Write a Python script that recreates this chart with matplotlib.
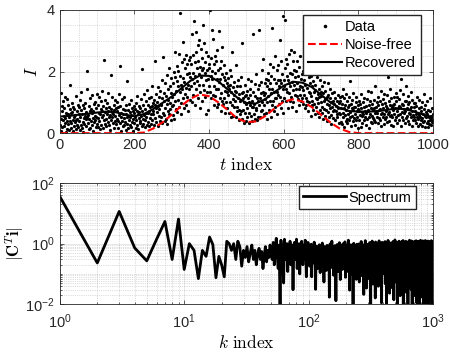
import numpy as np
import matplotlib
matplotlib.use('Agg')
import matplotlib.pyplot as plt
from matplotlib.ticker import MultipleLocator, LogLocator, NullFormatter, FuncFormatter

data_vals = [
    0.27,1.31,0.46,0.08,0.73,0.88,0.19,0.42,1.04,0.57,0.23,0.81,1.18,0.34,0.49,0.03,0.66,0.38,1.12,0.15,0.62,0.93,0.29,0.11,0.53,0.77,0.41,1.55,0.18,0.64,0.32,0.69,0.97,0.06,0.44,0.86,0.51,0.24,0.79,0.36,0.58,1.21,0.43,0.13,0.71,0.47,0.26,0.92,0.21,0.61,
    0.39,0.84,0.09,1.07,0.52,0.28,0.74,1.33,0.17,0.63,0.91,0.37,0.04,0.48,0.82,0.31,0.99,0.56,0.22,0.68,0.45,1.42,0.54,2.01,0.33,0.59,0.12,0.87,0.46,0.72,0.16,1.13,0.41,0.78,0.27,0.65,1.24,0.49,0.07,0.71,0.94,0.35,0.57,0.43,1.02,0.19,0.52,0.83,0.30,1.27,
    0.48,0.92,0.21,0.67,1.19,0.38,0.61,0.14,0.79,1.03,0.28,0.73,0.51,1.38,0.18,0.59,0.89,2.36,0.42,0.68,0.31,1.09,0.47,0.81,0.24,0.63,0.98,0.37,0.72,1.29,0.26,0.53,0.86,0.58,0.09,0.77,0.44,1.90,0.69,0.52,1.17,0.33,0.62,0.93,0.17,0.74,1.08,0.39,0.55,0.82,
    0.29,0.71,1.01,0.47,0.16,0.84,0.41,1.26,0.58,2.19,0.32,0.88,0.53,0.06,0.67,1.12,0.38,0.61,0.23,0.79,0.49,1.16,0.27,0.74,0.36,0.91,0.11,0.63,1.69,0.52,0.31,0.76,0.57,0.18,0.96,0.43,0.68,0.26,0.54,1.07,0.21,0.59,0.83,0.37,0.08,0.72,0.46,0.89,0.33,0.64,
    0.51,0.78,0.17,0.97,0.44,0.73,0.28,1.22,0.62,0.12,0.87,0.48,0.69,0.34,0.82,0.39,1.11,0.56,2.09,0.24,0.71,0.47,0.93,0.31,1.28,0.58,0.42,0.79,0.19,1.03,0.53,0.67,1.41,0.27,0.64,0.91,0.36,1.14,0.73,0.22,0.84,0.49,1.19,0.61,0.29,0.88,1.52,0.43,0.72,0.98,
    0.63,1.08,0.27,0.92,2.34,0.48,0.81,1.27,0.36,1.02,0.68,1.49,0.22,0.87,0.57,1.18,0.79,0.41,1.37,0.96,0.52,0.91,1.72,0.32,1.13,2.48,0.66,1.31,0.59,1.04,0.38,1.63,0.83,1.21,0.47,1.88,0.94,0.29,1.43,1.07,0.73,2.11,0.61,0.99,1.53,0.78,0.42,1.29,1.79,0.88,
    1.17,0.58,1.62,0.93,1.98,1.27,0.47,1.81,1.04,2.63,1.38,0.77,1.71,2.18,0.68,1.52,1.09,2.03,0.86,2.57,1.33,1.87,3.91,0.98,1.58,0.61,2.31,1.42,2.97,1.78,1.13,2.42,0.82,1.67,1.26,2.12,1.48,0.91,2.53,1.93,1.18,2.24,1.57,0.72,2.38,1.43,1.96,1.07,1.83,2.47,
    1.52,2.24,1.02,3.21,1.76,2.55,1.25,1.96,1.63,3.65,2.31,0.92,1.86,3.27,1.42,2.64,1.71,2.13,1.15,2.85,2.34,1.55,3.02,1.91,0.83,2.15,1.33,2.74,1.84,2.06,1.05,2.45,1.56,3.52,2.12,1.41,2.94,1.16,1.95,2.31,0.62,2.65,1.73,2.04,1.34,2.51,1.76,0.74,2.23,1.52,
    2.11,1.34,4.00,1.86,2.43,1.13,3.36,1.75,2.01,1.24,3.05,1.54,2.26,0.91,1.95,2.51,1.22,2.33,1.45,0.84,2.71,1.76,1.44,2.05,0.95,3.32,1.65,2.12,1.14,1.75,0.72,2.35,1.31,1.92,1.05,2.81,1.55,0.94,1.83,1.15,2.21,1.36,0.64,1.72,1.01,1.95,1.34,1.63,0.82,1.53,
    1.24,1.79,0.66,1.42,2.05,1.01,1.56,0.54,1.33,1.86,0.91,2.62,1.12,1.51,0.55,1.23,1.66,0.84,1.36,1.03,2.21,0.52,1.35,0.86,1.54,0.71,1.15,1.74,0.43,1.26,0.75,1.52,0.61,1.06,1.83,0.73,1.31,2.93,0.45,1.14,0.76,1.35,0.32,1.01,1.57,0.64,1.22,0.95,0.41,1.25,
    0.83,1.36,0.52,1.14,1.76,0.65,1.01,0.32,1.45,0.93,1.24,0.55,1.71,0.84,1.06,0.41,1.35,0.86,3.21,0.63,0.95,1.61,0.46,1.22,0.81,1.92,0.74,1.13,0.44,1.42,1.04,0.53,1.56,0.91,3.34,1.15,0.51,1.66,0.73,1.32,1.01,2.05,0.76,1.35,2.41,0.92,1.25,0.62,1.64,1.11,
    1.32,0.66,1.75,1.02,1.54,0.46,1.96,1.21,1.73,0.76,1.43,2.26,1.05,1.63,0.54,1.85,1.31,0.92,3.41,1.45,1.03,2.14,1.34,0.72,1.76,1.15,2.51,0.86,1.64,1.13,2.04,1.35,0.61,1.72,1.24,2.21,0.95,1.53,3.02,1.74,1.16,0.82,2.35,1.62,1.06,1.91,1.44,0.65,3.81,1.52,
    1.72,1.15,2.13,3.69,1.45,2.42,1.03,1.86,1.35,2.24,0.82,1.74,1.31,2.56,1.62,1.05,1.94,1.53,2.71,1.16,1.91,0.85,1.66,2.33,1.39,1.01,2.04,1.55,2.64,1.24,1.83,0.73,2.02,1.44,1.21,2.35,1.64,1.12,1.86,1.42,2.15,0.91,1.54,2.49,1.25,1.76,1.04,1.93,1.51,1.14,
    1.41,2.03,0.96,1.72,1.24,2.31,0.83,1.55,1.13,1.94,0.92,1.46,1.05,2.14,2.86,0.71,1.35,1.82,1.01,1.29,1.64,0.56,1.21,1.85,0.93,1.52,1.04,1.69,0.74,1.33,1.95,0.95,1.39,0.62,1.56,1.14,0.85,1.81,1.11,2.22,0.64,1.26,0.99,1.43,0.51,1.16,1.73,0.75,1.34,1.02,
    1.21,0.64,1.53,0.86,1.32,0.45,1.66,1.03,0.79,1.36,0.55,1.12,1.91,0.74,1.19,0.41,0.95,1.62,0.69,1.25,0.92,0.51,1.14,0.83,1.44,0.59,1.01,0.31,1.29,0.84,0.73,1.06,0.49,1.35,0.76,0.94,0.42,1.15,0.71,1.96,0.89,0.53,1.04,0.62,1.23,0.81,0.33,0.99,0.65,1.16,
    0.62,1.04,0.36,0.83,1.21,0.29,0.94,0.66,1.42,0.53,0.81,0.19,1.13,0.58,0.92,0.41,1.26,0.74,0.46,1.05,0.33,0.85,0.61,1.16,0.44,0.91,0.69,1.71,0.52,0.96,0.23,0.82,0.57,1.09,0.39,0.75,1.31,0.48,0.86,0.27,0.84,0.63,1.02,0.42,1.18,0.71,0.54,0.93,0.16,0.79,
    0.73,0.42,1.06,0.59,0.94,0.21,0.83,1.26,0.55,0.68,0.34,1.02,0.61,0.84,0.43,1.15,0.72,0.51,2.02,0.88,0.26,0.64,1.12,0.45,0.76,0.71,1.38,0.53,0.92,0.18,0.62,1.04,0.37,0.81,1.33,0.56,0.32,0.95,0.74,0.48,1.09,0.43,0.82,0.65,1.52,0.35,0.73,0.86,0.52,1.01,
    0.64,0.91,0.33,1.16,0.75,0.48,1.03,0.42,0.79,1.36,0.61,0.24,0.94,0.66,1.12,0.52,0.83,0.31,1.28,0.63,0.98,0.45,0.72,0.87,0.53,1.23,0.35,0.81,1.82,0.62,1.04,0.41,0.68,0.93,0.55,1.42,0.59,0.28,1.13,0.84,0.51,0.92,0.22,0.74,1.19,0.63,0.96,0.44,0.82,1.31,
    0.53,1.03,0.72,0.34,1.17,0.81,0.58,1.12,0.43,0.89,1.41,0.62,0.84,0.23,1.76,0.68,0.96,0.52,0.91,1.26,0.43,0.78,0.64,1.06,0.32,0.73,1.04,0.49,1.52,0.82,0.57,0.94,0.41,1.21,0.66,0.29,1.02,0.63,0.79,1.33,0.54,0.86,0.24,0.71,1.08,0.58,0.42,0.97,0.84,0.51,
    0.72,0.43,0.98,0.61,0.34,0.88,0.52,1.17,0.45,0.66,0.22,0.81,0.59,1.08,0.31,0.54,0.86,0.42,0.73,0.24,1.02,0.48,0.63,0.35,0.79,1.28,0.41,0.56,0.19,0.92,0.53,0.68,0.33,0.62,1.04,0.38,0.21,0.76,0.52,0.29,0.71,1.13,0.44,0.57,0.26,0.49,0.82,0.36,0.61,0.43,
]

# smooth curves, sampled every 25 t
curve_t = [0,25,50,75,100,125,150,175,200,225,250,275,300,325,350,375,400,425,450,475,500,
           525,550,575,600,625,650,675,700,725,750,775,800,825,850,875,900,925,950,975,1000]
noise_free = [0,0,0,0,0,0,0,0,0,0.02,0.15,0.35,0.6,0.88,1.12,1.26,1.2,1.0,0.75,0.48,0.36,
              0.38,0.55,0.8,1.02,1.1,1.03,0.85,0.6,0.35,0.15,0.04,0,0,0,0,0,0,0,0,0]
recovered = [0.54,0.56,0.6,0.63,0.67,0.7,0.68,0.6,0.55,0.62,0.78,0.98,1.19,1.45,1.7,1.87,1.86,1.68,1.42,1.16,0.98,
             0.96,1.1,1.33,1.54,1.67,1.64,1.5,1.25,1.0,0.82,0.72,0.7,0.7,0.71,0.75,0.8,0.78,0.7,0.6,0.52]

# spectrum |C^T i|, k = 1..1000
spec_low = [36,.23,11.6,.72,.27,1.4,5.4,.3,6.5,.14,1.0,.6,.07,.6,.38,1.65,.93,.075,.38,.2,
            .08,1.2,1.0,.6,1.0,.3,1.2,.8,.18,.6]
spec_mid = [.35,.8,.25,.5,.9,.3,.6,.2,.45,.7,.3,.55,.15,.4,.8,.25,.6,.35,.9,.5,
            .3,1.1,.2,.7,1.5,.4,.15,.9,.008,1.3,.5,.25,.05,1.4,.6,.3,1.0,.12,.7,.4,
            1.2,.2,.6,.9,.03,.5,1.1,.3,.8,1.4,.15,.6,.4,1.0,.1,.7,.35,1.2,.5,.2,
            .9,.6,.3,1.3,.45,.08,.8,.5,1.1,.25]
spec_high = [
    .42,.18,.71,.35,.96,.08,.53,.27,.64,.41,1.12,.22,.47,.031,.58,.83,.36,.15,.69,.44,.25,.92,.57,.11,.38,.74,.29,.49,1.05,.19,.62,.33,.054,.81,.46,.24,.67,.39,.13,.55,.88,.31,.72,.21,.43,.6,.017,.52,.98,.34,
    .28,.63,.45,1.21,.16,.51,.37,.79,.09,.66,.41,.24,.86,.53,.32,.013,.7,.47,.2,.94,.36,.58,.12,.44,.76,.27,1.08,.5,.39,.065,.61,.84,.23,.48,.35,.73,.14,.56,.99,.3,.42,.19,.68,.52,.27,1.15,.4,.077,.63,.45,
    .55,.31,.89,.12,.46,.71,.26,.38,1.3,.5,.17,.64,.43,.029,.77,.33,.58,.21,.92,.41,.68,.1,.36,.54,.81,.24,.47,.0082,.62,.39,1.03,.28,.51,.15,.74,.45,.34,.87,.2,.59,.42,.066,.69,.3,.96,.48,.13,.57,.37,.79,
    .19,.65,.41,.98,.33,.054,.57,.26,.74,.44,.12,.83,.5,.36,1.18,.22,.61,.4,.087,.7,.29,.53,.92,.15,.46,.35,.67,.021,.58,.8,.31,.44,.11,.76,.52,1.26,.27,.62,.39,.18,.86,.48,.034,.6,.33,.72,.25,.95,.43,.56,
    .38,.71,.16,.54,.9,.29,.45,.068,.63,.37,1.09,.21,.51,.79,.32,.0063,.6,.42,.25,.88,.47,.14,.67,.34,1.22,.53,.19,.73,.4,.046,.58,.31,.97,.44,.23,.65,.36,.12,.82,.5,.28,.7,.41,.016,.56,1.14,.33,.62,.2,.48,
    .61,.24,.85,.43,.17,.59,.35,1.01,.47,.09,.72,.3,.54,.039,.78,.4,.22,.66,1.24,.37,.5,.13,.69,.32,.87,.45,.058,.57,.27,.93,.41,.19,.64,.35,.74,.011,.52,.29,.8,.46,1.11,.23,.6,.38,.15,.7,.44,.91,.26,.55,
    .34,.77,.5,.1,.63,.28,.95,.42,.2,.68,.53,1.17,.31,.047,.59,.39,.82,.16,.47,.73,.25,.56,.0088,.66,.36,.99,.44,.13,.61,.3,.85,.52,.21,.7,.4,1.28,.27,.57,.074,.64,.35,.89,.18,.49,.76,.33,.6,.023,.45,.81,
    .43,.14,.67,.31,.92,.48,.22,.58,.36,1.06,.27,.71,.08,.52,.4,.84,.19,.62,.34,.035,.75,.45,.26,.97,.55,.12,.66,.38,1.19,.29,.5,.71,.17,.6,.014,.78,.42,.24,.88,.47,.33,.69,.1,.57,1.33,.37,.63,.21,.49,.8,
    .28,.59,.95,.35,.11,.7,.44,.23,.83,.51,.052,.64,.32,1.12,.46,.18,.74,.39,.6,.0071,.53,.87,.27,.67,.41,.15,.98,.48,.3,.72,.061,.56,.37,1.21,.25,.62,.43,.82,.13,.5,.34,.91,.2,.65,.019,.46,.77,.31,1.04,.4,
    .55,.22,.79,.42,.63,.097,.47,1.15,.33,.58,.17,.86,.4,.29,.69,.044,.52,.94,.36,.24,.75,.49,.12,.66,1.27,.31,.57,.0093,.45,.81,.26,.61,.38,.99,.2,.53,.71,.14,.43,.88,.35,.067,.64,.3,1.08,.48,.21,.76,.39,.59,
    .37,.84,.16,.6,.45,1.2,.28,.54,.025,.73,.41,.19,.92,.5,.33,.67,.11,.57,1.03,.26,.47,.78,.35,.082,.62,.42,.89,.23,.55,.0058,.7,.38,1.16,.3,.51,.15,.8,.44,.27,.65,.96,.36,.049,.58,.21,.74,.46,1.3,.32,.53,
    .18,.63,.4,.97,.29,.56,.071,.75,.43,.22,1.09,.51,.34,.68,.13,.85,.46,.031,.59,.37,1.23,.27,.64,.48,.16,.79,.39,.93,.2,.57,.0084,.7,.44,.25,1.14,.52,.32,.66,.1,.83,.42,.58,.22,1.01,.36,.055,.61,.47,.74,.28,
    .5,.87,.24,.62,.038,.45,.77,.33,1.18,.41,.15,.69,.55,.28,.94,.39,.019,.6,.47,.21,.82,.36,1.07,.53,.12,.72,.43,.3,.9,.066,.58,.35,1.25,.48,.19,.66,.4,.84,.26,.54,.011,.76,.32,.98,.44,.17,.63,1.13,.37,.57,
    .29,.71,.46,.13,.85,.38,.6,1.02,.23,.52,.047,.67,.41,.93,.31,.55,.16,.78,1.2,.35,.49,.086,.64,.27,.89,.43,.0062,.59,.2,1.11,.5,.34,.73,.14,.62,.4,.96,.25,.56,.028,.81,.45,.31,1.29,.53,.18,.69,.38,.88,.44,
    .61,.33,.98,.19,.54,.42,.75,.063,.48,1.16,.3,.66,.22,.86,.4,.13,.58,1.06,.36,.017,.7,.46,.25,.91,.52,.15,.63,.37,1.24,.28,.57,.042,.79,.44,.2,.68,.35,1.0,.5,.11,.74,.39,.0091,.6,.27,.94,.47,.32,.83,.55,
    .24,.69,.45,1.13,.35,.57,.12,.8,.41,.26,.95,.52,.074,.63,.38,.88,.18,.55,1.27,.31,.47,.67,.023,.59,.4,.99,.21,.72,.5,.14,.84,.36,.61,.0055,.46,1.1,.29,.76,.43,.17,.64,.53,.92,.33,.08,.7,.42,1.19,.27,.58,
    .47,.16,.77,.39,.62,1.05,.3,.54,.036,.71,.44,.22,.87,.58,.34,1.22,.13,.65,.41,.93,.27,.51,.0072,.74,.37,.19,.82,.48,1.15,.32,.6,.095,.55,.4,.97,.24,.68,.45,.15,.79,.53,.014,.63,.35,1.08,.29,.57,.86,.2,.49,
    .66,.31,.89,.45,.11,.58,.37,1.17,.25,.73,.5,.058,.64,.41,.95,.2,.55,.33,.8,.026,.61,1.26,.39,.47,.17,.85,.43,.69,.29,1.03,.52,.0089,.6,.36,.91,.22,.56,.44,.12,.76,.48,1.12,.3,.67,.043,.54,.38,.83,.6,.42,
]

spectrum = np.array(spec_low + spec_mid + spec_high)
k = np.arange(1, len(spectrum) + 1)
data = np.array(data_vals)
t = np.arange(1, len(data) + 1)

plt.rcParams['font.family'] = ['Liberation Sans', 'DejaVu Sans']
plt.rcParams['mathtext.fontset'] = 'cm'
dark = '#262626'

fig = plt.figure(figsize=(4.5, 3.57), dpi=100)
ax1 = fig.add_axes([0.133, 0.627, 0.829, 0.345])
ax2 = fig.add_axes([0.133, 0.148, 0.829, 0.339])

ax1.plot(t, data, '.', color='k', ms=2.6, label='Data')
ax1.plot(curve_t, noise_free, '--', color='r', lw=1.5, label='Noise-free')
ax1.plot(curve_t, recovered, '-', color='k', lw=1.5, label='Recovered')
ax1.set_xlim(0, 1000)
ax1.set_ylim(0, 4)
ax1.set_xticks([0, 200, 400, 600, 800, 1000])
ax1.set_yticks([0, 2, 4])
ax1.xaxis.set_minor_locator(MultipleLocator(50))
ax1.yaxis.set_minor_locator(MultipleLocator(0.5))
ax1.tick_params(which='minor', length=0)
ax1.set_xlabel(r'$t\ \mathrm{index}$', fontsize=12.5, labelpad=3)
ax1.set_ylabel(r'$I$', fontsize=12.5, labelpad=5)
ax1.legend(loc='upper right', bbox_to_anchor=(0.968, 0.962), fancybox=False,
           edgecolor=dark, framealpha=1, fontsize=10.5, handlelength=2.3,
           borderpad=0.35, labelspacing=0.28, handletextpad=0.2, numpoints=1,
           borderaxespad=0, markerscale=1.2)

ax2.loglog(k, spectrum, '-', color='k', lw=2, label='Spectrum')
ax2.set_xlim(1, 1000)
ax2.set_ylim(1e-2, 1e2)
ax2.set_yticks([1e-2, 1, 1e2])
ax2.yaxis.set_minor_locator(LogLocator(base=10, subs=np.arange(1, 10), numticks=20))
ax2.xaxis.set_minor_locator(LogLocator(base=10, subs=np.arange(2, 10), numticks=20))
ax2.yaxis.set_minor_formatter(NullFormatter())
ax2.xaxis.set_minor_formatter(NullFormatter())
pow_fmt = FuncFormatter(lambda v, p: r'$\mathregular{10^{%d}}$' % round(np.log10(v)))
ax2.xaxis.set_major_formatter(pow_fmt)
ax2.yaxis.set_major_formatter(pow_fmt)
ax2.tick_params(which='minor', length=1.5, width=0.5, direction='in', top=True, right=True, color=dark)
ax2.set_xlabel(r'$k\ \mathrm{index}$', fontsize=12.5, labelpad=2)
ax2.set_ylabel(r'$|\mathbf{C}^{T}\mathbf{i}|$', fontsize=12)
ax2.yaxis.set_label_coords(-0.09, 0.5)
ax2.legend(loc='upper right', bbox_to_anchor=(0.954, 0.975), fancybox=False,
           edgecolor=dark, framealpha=1, fontsize=10.5, handlelength=2.9,
           borderpad=0.3, handletextpad=0.2, borderaxespad=0)

for ax in (ax1, ax2):
    ax.grid(which='major', color=dark, alpha=0.15, lw=0.5, ls='-')
    ax.grid(which='minor', color=dark, alpha=0.3, lw=0.5, ls=':')
    ax.set_axisbelow(True)
    ax.tick_params(which='major', direction='in', length=3, width=0.5,
                   top=True, right=True, labelsize=10.5, color=dark, labelcolor=dark)
    for s in ax.spines.values():
        s.set_color(dark)
        s.set_linewidth(0.6)
ax2.tick_params(axis='x', which='major', pad=6)

fig.savefig('out.png', dpi=100)
